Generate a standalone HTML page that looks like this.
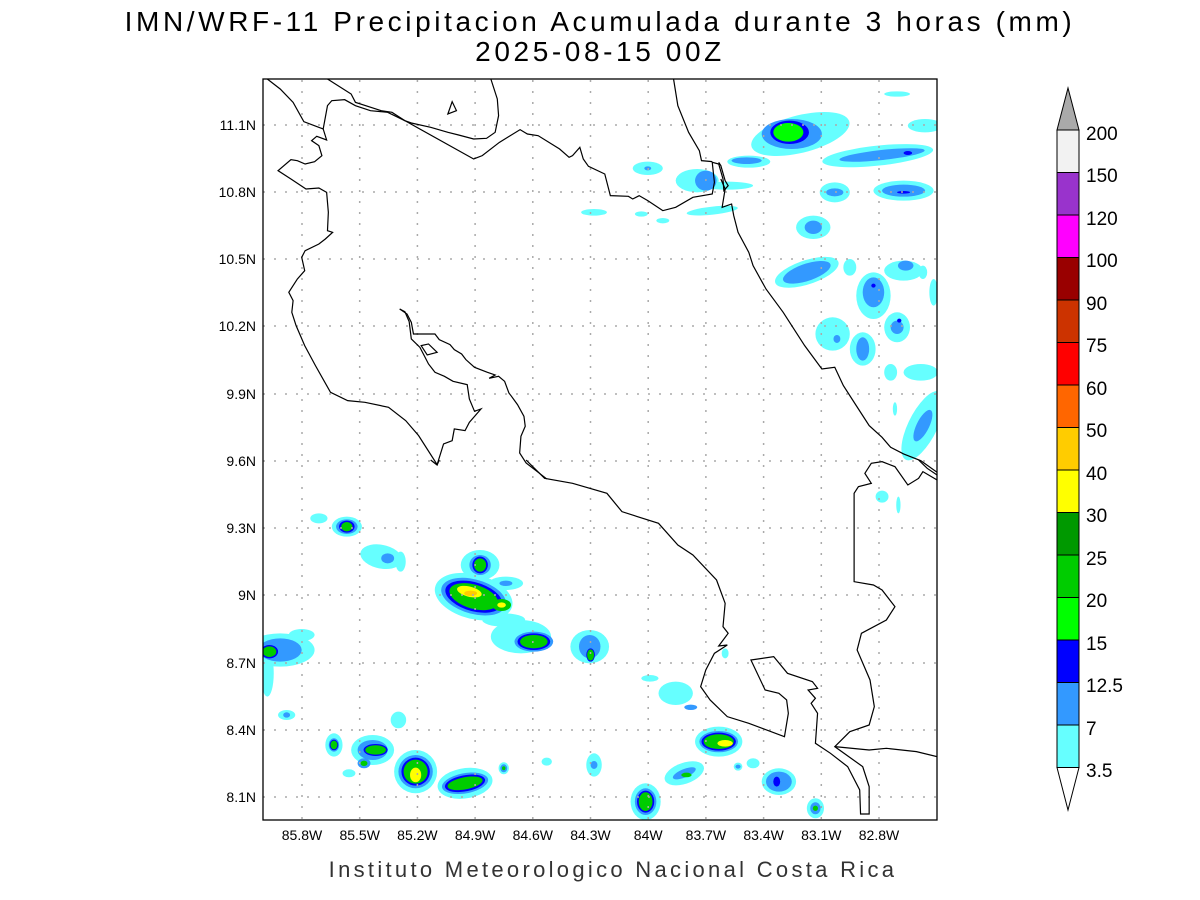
<!DOCTYPE html>
<html><head><meta charset="utf-8"><style>
html,body{margin:0;padding:0;background:#fff;}
svg{display:block;font-family:"Liberation Sans",sans-serif;}
.c path,.c polyline{fill:none;stroke:#000;stroke-width:1.2;vector-effect:non-scaling-stroke;}
</style></head><body>
<svg width="1200" height="900" viewBox="0 0 1200 900" xmlns="http://www.w3.org/2000/svg">
<defs><clipPath id="pc"><rect x="263" y="79" width="674" height="741"/></clipPath></defs>
<rect width="1200" height="900" fill="#fff"/>
<text x="600" y="31" font-size="28" text-anchor="middle" fill="#000" letter-spacing="3.6">IMN/WRF-11 Precipitacion Acumulada durante 3 horas (mm)</text>
<text x="600" y="61" font-size="28" text-anchor="middle" fill="#000" letter-spacing="3.6">2025-08-15 00Z</text>

<g clip-path="url(#pc)">
<!-- precipitation -->
<g transform="translate(263,79) scale(0.4299,0.3333)">
<g fill="#66ffff">
<ellipse cx="1250" cy="165" rx="120" ry="55" transform="rotate(-20 1250 165)"/>
<ellipse cx="1130" cy="248" rx="50" ry="18"/>
<ellipse cx="1430" cy="230" rx="130" ry="30" transform="rotate(-8 1430 230)"/>
<ellipse cx="1540" cy="140" rx="40" ry="20"/><ellipse cx="1475" cy="45" rx="30" ry="8"/>
<ellipse cx="895" cy="268" rx="35" ry="20"/>
<ellipse cx="1010" cy="305" rx="50" ry="35"/>
<ellipse cx="1080" cy="320" rx="60" ry="12"/>
<ellipse cx="1045" cy="395" rx="60" ry="12" transform="rotate(-8 1045 395)"/>
<ellipse cx="770" cy="400" rx="30" ry="10"/>
<ellipse cx="880" cy="405" rx="15" ry="8"/><ellipse cx="930" cy="425" rx="15" ry="8"/>
<ellipse cx="1330" cy="340" rx="35" ry="30"/>
<ellipse cx="1490" cy="335" rx="70" ry="30"/>
<ellipse cx="1280" cy="445" rx="40" ry="35"/>
<ellipse cx="1265" cy="580" rx="80" ry="35" transform="rotate(-25 1265 580)"/>
<ellipse cx="1365" cy="565" rx="15" ry="25"/>
<ellipse cx="1420" cy="650" rx="40" ry="70"/>
<ellipse cx="1490" cy="575" rx="45" ry="30"/>
<ellipse cx="1535" cy="580" rx="10" ry="20"/><ellipse cx="1560" cy="640" rx="10" ry="40"/>
<ellipse cx="1475" cy="745" rx="30" ry="45"/>
<ellipse cx="1325" cy="765" rx="40" ry="50"/>
<ellipse cx="1395" cy="810" rx="30" ry="50"/>
<ellipse cx="1460" cy="880" rx="15" ry="25"/><ellipse cx="1530" cy="880" rx="40" ry="25"/>
<ellipse cx="1535" cy="1040" rx="35" ry="110" transform="rotate(20 1535 1040)"/>
<ellipse cx="1470" cy="990" rx="5" ry="20"/>
</g>
<g fill="#3399ff">
<ellipse cx="1230" cy="165" rx="70" ry="45"/>
<ellipse cx="1125" cy="245" rx="35" ry="10"/>
<ellipse cx="1440" cy="228" rx="100" ry="15" transform="rotate(-8 1440 228)"/>
<ellipse cx="895" cy="268" rx="8" ry="6"/>
<ellipse cx="1030" cy="305" rx="25" ry="30"/>
<ellipse cx="1330" cy="340" rx="20" ry="12"/>
<ellipse cx="1490" cy="335" rx="50" ry="18"/>
<ellipse cx="1280" cy="445" rx="20" ry="20"/>
<ellipse cx="1265" cy="580" rx="60" ry="25" transform="rotate(-25 1265 580)"/>
<ellipse cx="1420" cy="640" rx="25" ry="45"/>
<ellipse cx="1495" cy="560" rx="18" ry="15"/>
<ellipse cx="1475" cy="745" rx="15" ry="20"/>
<ellipse cx="1335" cy="780" rx="8" ry="12"/>
<ellipse cx="1395" cy="810" rx="15" ry="35"/>
<ellipse cx="1535" cy="1040" rx="15" ry="50" transform="rotate(20 1535 1040)"/>
</g>
<g fill="#0000ff">
<ellipse cx="1225" cy="160" rx="45" ry="35"/>
<ellipse cx="1500" cy="222" rx="10" ry="6"/>
<ellipse cx="1490" cy="340" rx="15" ry="4"/>
<ellipse cx="1420" cy="620" rx="5" ry="6"/>
<ellipse cx="1480" cy="725" rx="5" ry="6"/>
</g>
<ellipse cx="1222" cy="160" rx="35" ry="28" fill="#00ff00"/>
</g>

<g transform="translate(263,460) scale(0.4299,0.3333)">
<g fill="#66ffff">
<ellipse cx="130" cy="175" rx="20" ry="15"/>
<ellipse cx="195" cy="200" rx="35" ry="30"/>
<ellipse cx="275" cy="290" rx="50" ry="35" transform="rotate(20 275 290)"/>
<ellipse cx="320" cy="305" rx="12" ry="30"/>
<ellipse cx="505" cy="315" rx="45" ry="45"/>
<ellipse cx="565" cy="370" rx="40" ry="20"/>
<ellipse cx="490" cy="410" rx="95" ry="65" transform="rotate(25 490 410)"/>
<ellipse cx="600" cy="530" rx="70" ry="50"/>
<ellipse cx="560" cy="480" rx="50" ry="20"/>
<ellipse cx="760" cy="560" rx="45" ry="50"/>
<ellipse cx="40" cy="570" rx="80" ry="50"/>
<ellipse cx="90" cy="525" rx="30" ry="18"/>
<ellipse cx="10" cy="640" rx="15" ry="70"/>
<ellipse cx="55" cy="765" rx="20" ry="15"/>
<ellipse cx="315" cy="780" rx="18" ry="25"/>
<ellipse cx="165" cy="855" rx="20" ry="35"/>
<ellipse cx="255" cy="870" rx="50" ry="45"/>
<ellipse cx="200" cy="940" rx="15" ry="12"/>
<ellipse cx="355" cy="935" rx="50" ry="65"/>
<ellipse cx="470" cy="970" rx="65" ry="45" transform="rotate(-15 470 970)"/>
<ellipse cx="560" cy="925" rx="12" ry="18"/>
<ellipse cx="660" cy="905" rx="12" ry="12"/>
<ellipse cx="770" cy="915" rx="18" ry="35"/>
<ellipse cx="890" cy="1025" rx="35" ry="55"/>
<ellipse cx="980" cy="940" rx="50" ry="30" transform="rotate(-30 980 940)"/>
<ellipse cx="1060" cy="845" rx="55" ry="45"/>
<ellipse cx="960" cy="700" rx="40" ry="35"/>
<ellipse cx="900" cy="655" rx="20" ry="10"/>
<ellipse cx="1140" cy="910" rx="15" ry="15"/>
<ellipse cx="1105" cy="920" rx="10" ry="12"/>
<ellipse cx="1200" cy="965" rx="40" ry="40"/>
<ellipse cx="1285" cy="1045" rx="20" ry="30"/>
<ellipse cx="1075" cy="580" rx="8" ry="15"/>
<ellipse cx="1440" cy="110" rx="15" ry="18"/>
<ellipse cx="1478" cy="135" rx="5" ry="25"/>
</g>
<g fill="#3399ff">
<ellipse cx="195" cy="200" rx="25" ry="22"/>
<ellipse cx="290" cy="295" rx="15" ry="15"/>
<ellipse cx="505" cy="315" rx="25" ry="30"/>
<ellipse cx="565" cy="370" rx="15" ry="8"/>
<ellipse cx="490" cy="410" rx="80" ry="50" transform="rotate(25 490 410)"/>
<ellipse cx="630" cy="545" rx="45" ry="30"/>
<ellipse cx="760" cy="560" rx="25" ry="35"/>
<ellipse cx="40" cy="570" rx="50" ry="35"/>
<ellipse cx="55" cy="765" rx="8" ry="8"/>
<ellipse cx="165" cy="855" rx="12" ry="20"/>
<ellipse cx="255" cy="870" rx="35" ry="30"/>
<ellipse cx="235" cy="910" rx="15" ry="15"/>
<ellipse cx="355" cy="935" rx="40" ry="50"/>
<ellipse cx="470" cy="970" rx="55" ry="30" transform="rotate(-15 470 970)"/>
<ellipse cx="560" cy="925" rx="8" ry="12"/>
<ellipse cx="770" cy="915" rx="8" ry="12"/>
<ellipse cx="890" cy="1025" rx="25" ry="40"/>
<ellipse cx="980" cy="940" rx="30" ry="12" transform="rotate(-30 980 940)"/>
<ellipse cx="1060" cy="845" rx="45" ry="32"/>
<ellipse cx="995" cy="742" rx="15" ry="8"/>
<ellipse cx="1105" cy="920" rx="6" ry="6"/>
<ellipse cx="1200" cy="965" rx="30" ry="30"/>
<ellipse cx="1285" cy="1045" rx="12" ry="18"/>
</g>
<g fill="#0000ff">
<ellipse cx="195" cy="200" rx="18" ry="18"/>
<ellipse cx="505" cy="315" rx="18" ry="25"/>
<ellipse cx="490" cy="410" rx="70" ry="42" transform="rotate(25 490 410)"/>
<ellipse cx="630" cy="545" rx="38" ry="25"/>
<ellipse cx="762" cy="585" rx="10" ry="20"/>
<ellipse cx="15" cy="575" rx="20" ry="20"/>
<ellipse cx="165" cy="855" rx="10" ry="16"/>
<ellipse cx="262" cy="870" rx="28" ry="18"/>
<ellipse cx="355" cy="935" rx="33" ry="42"/>
<ellipse cx="470" cy="970" rx="48" ry="24" transform="rotate(-15 470 970)"/>
<ellipse cx="890" cy="1025" rx="20" ry="33"/>
<ellipse cx="1060" cy="845" rx="40" ry="27"/>
<ellipse cx="1195" cy="965" rx="8" ry="15"/>
</g>
<g fill="#00cc00">
<ellipse cx="195" cy="200" rx="13" ry="14"/>
<ellipse cx="505" cy="315" rx="14" ry="20"/>
<ellipse cx="490" cy="410" rx="60" ry="35" transform="rotate(25 490 410)"/>
<ellipse cx="555" cy="435" rx="22" ry="18"/>
<ellipse cx="630" cy="545" rx="32" ry="20"/>
<ellipse cx="762" cy="585" rx="8" ry="17"/>
<ellipse cx="15" cy="575" rx="16" ry="16"/>
<ellipse cx="165" cy="855" rx="8" ry="13"/>
<ellipse cx="262" cy="870" rx="24" ry="14"/>
<ellipse cx="235" cy="910" rx="8" ry="8"/>
<ellipse cx="355" cy="935" rx="28" ry="36"/>
<ellipse cx="470" cy="970" rx="42" ry="18" transform="rotate(-15 470 970)"/>
<ellipse cx="560" cy="925" rx="4" ry="6"/>
<ellipse cx="890" cy="1025" rx="16" ry="28"/>
<ellipse cx="985" cy="945" rx="12" ry="7"/>
<ellipse cx="1060" cy="845" rx="35" ry="22"/>
<ellipse cx="1285" cy="1045" rx="6" ry="8"/>
</g>
<g fill="#ffff00">
<ellipse cx="480" cy="395" rx="30" ry="15" transform="rotate(20 480 395)"/>
<ellipse cx="555" cy="435" rx="10" ry="8"/>
<ellipse cx="355" cy="945" rx="13" ry="22"/>
<ellipse cx="1075" cy="850" rx="18" ry="10"/>
</g>
<ellipse cx="483" cy="400" rx="15" ry="8" fill="#ffcc00"/>
</g>
</g>

<!-- grid -->
<g stroke="#aaa" stroke-width="1.5" stroke-dasharray="2,9">
<line x1="302" y1="80" x2="302" y2="820"/><line x1="359.7" y1="80" x2="359.7" y2="820"/><line x1="417.4" y1="80" x2="417.4" y2="820"/><line x1="475.1" y1="80" x2="475.1" y2="820"/><line x1="532.8" y1="80" x2="532.8" y2="820"/><line x1="590.5" y1="80" x2="590.5" y2="820"/><line x1="648.2" y1="80" x2="648.2" y2="820"/><line x1="705.9" y1="80" x2="705.9" y2="820"/><line x1="763.6" y1="80" x2="763.6" y2="820"/><line x1="821.3" y1="80" x2="821.3" y2="820"/><line x1="879" y1="80" x2="879" y2="820"/>
<line x1="263" y1="125" x2="937" y2="125"/><line x1="263" y1="192" x2="937" y2="192"/><line x1="263" y1="259" x2="937" y2="259"/><line x1="263" y1="326" x2="937" y2="326"/><line x1="263" y1="394" x2="937" y2="394"/><line x1="263" y1="461" x2="937" y2="461"/><line x1="263" y1="528" x2="937" y2="528"/><line x1="263" y1="595" x2="937" y2="595"/><line x1="263" y1="663" x2="937" y2="663"/><line x1="263" y1="730" x2="937" y2="730"/><line x1="263" y1="797" x2="937" y2="797"/>
</g>

<!-- coastlines -->
<g clip-path="url(#pc)">
<g class="c" transform="translate(263,79) scale(0.4299,0.3333)">
<polyline points="10,0 40,30 70,70 95,128 140,150 150,80 160,65 190,62 215,80 250,95 290,100 330,125 490,240 510,230 550,190 598,152 615,165 640,170 690,210 712,235 720,230 737,205 745,240 757,262 795,285 808,350 850,352 860,360 875,350 895,365 930,395 960,385 1000,355 1045,345 1050,310 1045,250 1060,255 1070,300 1072,335 1082,320 1075,305 1065,260 1060,250"/>
<polyline points="150,0 205,45 215,70 275,95 300,100 330,125 345,132 390,145 430,160 455,168 490,180 520,178 540,160 548,110 545,60 530,0"/>
<polyline points="955,0 965,80 990,160 1015,215 1020,245 1045,248"/>
<polyline points="1065,300 1075,330 1068,385 1090,375 1095,410 1105,460 1130,520 1140,560 1170,630 1210,700 1230,740 1260,800 1300,870 1330,865 1350,920 1380,980 1410,1040 1440,1075 1460,1105 1490,1125 1530,1145 1568,1180"/>
<polygon points="430,105 440,68 450,95" style="fill:none;stroke:#000;stroke-width:1.2;vector-effect:non-scaling-stroke"/>
<polyline points="140,150 148,183 125,172 113,185 130,200 137,230 120,248 98,255 80,245 65,242 35,275 65,300 100,330 130,327 148,340 152,400 150,455 162,460 145,480 130,495 98,515 90,535 97,575 80,600 60,640 70,665 67,700 77,740 97,800 122,860 157,940 197,965 237,970 292,985 332,1025 362,1070 405,1157 420,1095 440,1085 445,1050 470,1055 480,1030 507,990 492,997 480,960 475,917 442,907 422,892 400,880 385,855 375,830 365,805 345,780 340,728 330,698 318,690"/>
<polygon points="368,800 385,795 405,820 382,828" style="fill:none;stroke:#000;stroke-width:1.2;vector-effect:non-scaling-stroke"/>
<polyline points="318,690 335,705 345,730 350,765 378,765 400,765 410,782 435,797 445,812 462,825 472,842 492,865 522,880 540,888 526,898 548,892 562,907 572,942 578,952 592,977 607,1012 610,1042 600,1072 597,1122 612,1152 642,1182 660,1200"/>
</g>
<g class="c" transform="translate(263,460) scale(0.4299,0.3333)">
<polyline points="390,0 405,15 410,0"/>
<polyline points="612,0 655,55 720,70 800,100 835,155 920,190 965,255 1000,285 1055,360 1075,430 1070,500 1082,520 1060,558 1080,555 1050,580 1030,630 1018,680 1040,720 1080,770 1130,790 1213,830 1222,760 1218,720 1200,700 1168,690 1135,600 1188,590 1220,640 1278,665 1290,685 1268,690 1285,715 1275,730 1290,760 1285,850 1320,880 1360,920 1388,990 1390,1062 1410,1062 1410,980 1395,920 1330,860 1365,815 1410,795 1422,740 1412,660 1382,570 1392,520 1450,480 1470,440 1440,390 1420,375 1375,365 1375,100 1385,80 1415,70 1400,40 1415,10 1440,5 1470,20 1500,75 1525,55 1535,35 1568,60"/>
<polyline points="1330,860 1410,870 1450,865 1520,875 1568,890"/>
<polyline points="1525,0 1545,25 1568,45"/>
</g>
</g>

<rect x="263" y="79" width="674" height="741" fill="none" stroke="#000" stroke-width="1.3"/>

<!-- y labels -->
<g font-size="14" text-anchor="end" fill="#000">
<text x="256" y="130">11.1N</text><text x="256" y="197">10.8N</text><text x="256" y="264">10.5N</text><text x="256" y="331">10.2N</text><text x="256" y="399">9.9N</text><text x="256" y="466">9.6N</text><text x="256" y="533">9.3N</text><text x="256" y="600">9N</text><text x="256" y="668">8.7N</text><text x="256" y="735">8.4N</text><text x="256" y="802">8.1N</text>
</g>
<g font-size="14" text-anchor="middle" fill="#000">
<text x="302" y="840">85.8W</text><text x="359.7" y="840">85.5W</text><text x="417.4" y="840">85.2W</text><text x="475.1" y="840">84.9W</text><text x="532.8" y="840">84.6W</text><text x="590.5" y="840">84.3W</text><text x="648.2" y="840">84W</text><text x="705.9" y="840">83.7W</text><text x="763.6" y="840">83.4W</text><text x="821.3" y="840">83.1W</text><text x="879" y="840">82.8W</text>
</g>
<text x="613" y="877" font-size="22" text-anchor="middle" fill="#333" letter-spacing="3.3">Instituto Meteorologico Nacional Costa Rica</text>

<!-- colorbar -->
<g stroke="#000" stroke-width="1">
<polygon points="1057,130 1079,130 1068,88" fill="#aaaaaa"/>
<rect x="1057" y="130" width="22" height="42.5" fill="#f2f2f2"/>
<rect x="1057" y="172.5" width="22" height="42.5" fill="#9933cc"/>
<rect x="1057" y="215" width="22" height="42.5" fill="#ff00ff"/>
<rect x="1057" y="257.5" width="22" height="42.5" fill="#990000"/>
<rect x="1057" y="300" width="22" height="42.5" fill="#cc3300"/>
<rect x="1057" y="342.5" width="22" height="42.5" fill="#ff0000"/>
<rect x="1057" y="385" width="22" height="42.5" fill="#ff6600"/>
<rect x="1057" y="427.5" width="22" height="42.5" fill="#ffcc00"/>
<rect x="1057" y="470" width="22" height="42.5" fill="#ffff00"/>
<rect x="1057" y="512.5" width="22" height="42.5" fill="#009900"/>
<rect x="1057" y="555" width="22" height="42.5" fill="#00cc00"/>
<rect x="1057" y="597.5" width="22" height="42.5" fill="#00ff00"/>
<rect x="1057" y="640" width="22" height="42.5" fill="#0000ff"/>
<rect x="1057" y="682.5" width="22" height="42.5" fill="#3399ff"/>
<rect x="1057" y="725" width="22" height="42.5" fill="#66ffff"/>
<polygon points="1057,767.5 1079,767.5 1068,810" fill="#fff"/>
</g>
<g font-size="19" fill="#000">
<text x="1086" y="140">200</text><text x="1086" y="182">150</text><text x="1086" y="225">120</text><text x="1086" y="267">100</text><text x="1086" y="310">90</text><text x="1086" y="352">75</text><text x="1086" y="395">60</text><text x="1086" y="437">50</text><text x="1086" y="480">40</text><text x="1086" y="522">30</text><text x="1086" y="565">25</text><text x="1086" y="607">20</text><text x="1086" y="650">15</text><text x="1086" y="692">12.5</text><text x="1086" y="735">7</text><text x="1086" y="777">3.5</text>
</g>
</svg>
</body></html>
